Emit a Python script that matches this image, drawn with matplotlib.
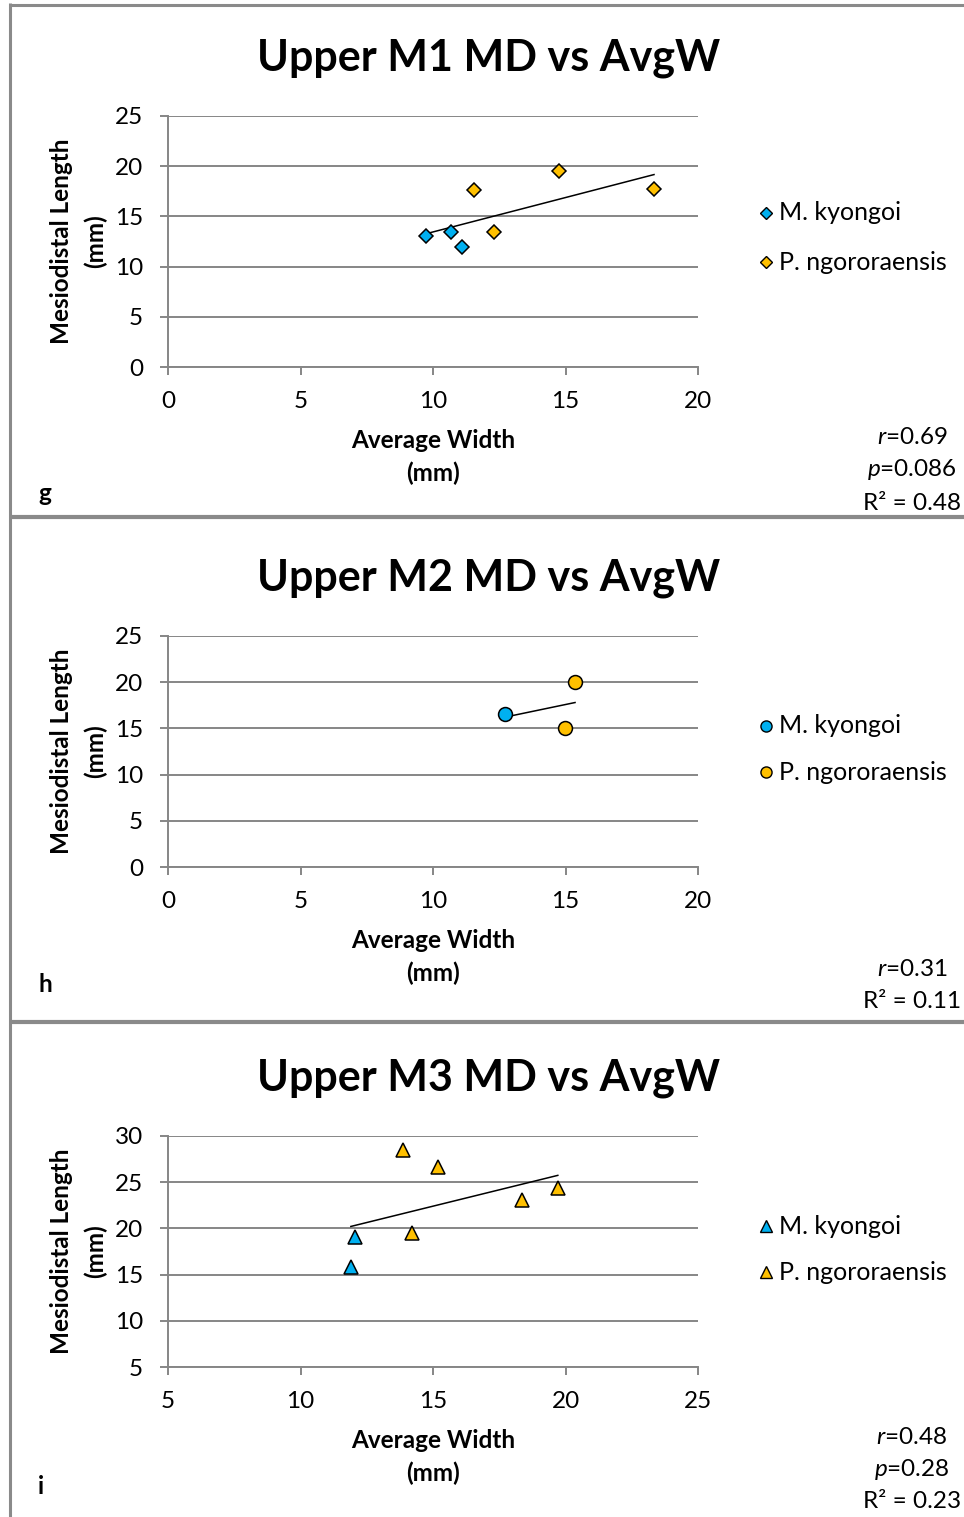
import numpy as np
import matplotlib
matplotlib.use("Agg")
import matplotlib.pyplot as plt
from matplotlib.lines import Line2D

plt.rcParams['font.family'] = ['Lato', 'DejaVu Sans']
plt.rcParams['mathtext.fontset'] = 'custom'
plt.rcParams['mathtext.rm'] = 'Lato'
plt.rcParams['mathtext.it'] = 'Lato:italic'

W, H = 964, 1517

# ---- data: average width (mm) vs mesiodistal length (mm) ----
m1_kyongoi_w = [9.73, 10.67, 11.08]
m1_kyongoi_md = [13.06, 13.42, 12.00]
m1_ngoro_w = [11.55, 12.29, 14.74, 18.34]
m1_ngoro_md = [17.60, 13.42, 19.53, 17.74]

m2_kyongoi_w = [12.73]
m2_kyongoi_md = [16.60]
m2_ngoro_w = [15.36, 14.98]
m2_ngoro_md = [20.00, 15.00]

m3_kyongoi_w = [12.04, 11.90]
m3_kyongoi_md = [19.10, 15.85]
m3_ngoro_w = [13.88, 15.19, 14.20, 18.35, 19.71]
m3_ngoro_md = [28.48, 26.60, 19.53, 23.07, 24.40]

titles = ["Upper M1 MD vs AvgW", "Upper M2 MD vs AvgW", "Upper M3 MD vs AvgW"]
panel_letters = ["g", "h", "i"]
stats = [["$\\mathit{r}$=0.69", "$\\mathit{p}$=0.086", "R\u00b2 = 0.48"],
         ["$\\mathit{r}$=0.31", "R\u00b2 = 0.11"],
         ["$\\mathit{r}$=0.48", "$\\mathit{p}$=0.28", "R\u00b2 = 0.23"]]
species = ["M. kyongoi", "P. ngororaensis"]
x_ranges = [(0, 20), (0, 20), (5, 25)]
y_ranges = [(0, 25), (0, 25), (5, 30)]

BLUE = "#00B0F0"
GOLD = "#FFC000"
GRID = "#868686"

fig = plt.figure(figsize=(W / 100, H / 100), dpi=100)


def fx(px):
    return px / W


def fy(py):
    return 1 - py / H


def hline(x0, x1, y, lw, color="#8a8a8a"):
    fig.add_artist(Line2D([fx(x0), fx(x1)], [fy(y), fy(y)], lw=lw, color=color,
                          transform=fig.transFigure, solid_capstyle="butt"))


def vline(x, y0, y1, lw, color="#8a8a8a"):
    fig.add_artist(Line2D([fx(x), fx(x)], [fy(y0), fy(y1)], lw=lw, color=color,
                          transform=fig.transFigure, solid_capstyle="butt"))


panels = [
    dict(kw=m1_kyongoi_w, kmd=m1_kyongoi_md, nw=m1_ngoro_w, nmd=m1_ngoro_md,
         marker="D", ms=7.5, top=116, bottom=367, title_y=70,
         xl=(441, 473), leg=(213, 262), letter_y=493,
         stat_y=[438, 470, 503]),
    dict(kw=m2_kyongoi_w, kmd=m2_kyongoi_md, nw=m2_ngoro_w, nmd=m2_ngoro_md,
         marker="o", ms=10, top=636, bottom=867, title_y=590,
         xl=(941, 973), leg=(726, 772), letter_y=985,
         stat_y=[970, 1002]),
    dict(kw=m3_kyongoi_w, kmd=m3_kyongoi_md, nw=m3_ngoro_w, nmd=m3_ngoro_md,
         marker="^", ms=10.5, top=1136, bottom=1367, title_y=1090,
         xl=(1441, 1473), leg=(1226, 1272), letter_y=1487,
         stat_y=[1437, 1469, 1501]),
]

AX_L, AX_R = 168, 698

for i, p in enumerate(panels):
    ax = fig.add_axes([fx(AX_L), fy(p["bottom"]), (AX_R - AX_L) / W,
                       (p["bottom"] - p["top"]) / H])
    ax.set_xlim(*x_ranges[i])
    ax.set_ylim(*y_ranges[i])
    ax.set_xticks(np.arange(x_ranges[i][0], x_ranges[i][1] + 1, 5))
    ax.set_yticks(np.arange(y_ranges[i][0], y_ranges[i][1] + 1, 5))
    ax.grid(axis="y", color=GRID, lw=1.4)
    ax.set_axisbelow(True)
    for s in ["top", "right"]:
        ax.spines[s].set_visible(False)
    for s in ["left", "bottom"]:
        ax.spines[s].set_color(GRID)
        ax.spines[s].set_linewidth(1.4)
    ax.tick_params(axis="both", colors=GRID, labelcolor="black", labelsize=17.5,
                   width=1.4, length=6, direction="out")
    ax.tick_params(axis="x", pad=11.5)
    ax.tick_params(axis="y", pad=12)

    # fitted trend line over all specimens
    allw = np.array(p["kw"] + p["nw"])
    allmd = np.array(p["kmd"] + p["nmd"])
    slope, icpt = np.polyfit(allw, allmd, 1)
    xs = np.array([allw.min(), allw.max()])
    ax.plot(xs, slope * xs + icpt, color="black", lw=1.1, zorder=3)

    ax.plot(p["kw"], p["kmd"], ls="none", marker=p["marker"], ms=p["ms"],
            mfc=BLUE, mec="black", mew=1.1, zorder=4, clip_on=False)
    ax.plot(p["nw"], p["nmd"], ls="none", marker=p["marker"], ms=p["ms"],
            mfc=GOLD, mec="black", mew=1.1, zorder=4, clip_on=False)

    # title and axis labels
    fig.text(fx(489), fy(p["title_y"]), titles[i], ha="center", va="baseline",
             fontsize=31, fontweight="bold")
    fig.text(fx(433), fy(p["xl"][0]), "Average Width", ha="center", va="center",
             fontsize=17.5, fontweight="bold")
    fig.text(fx(433), fy(p["xl"][1]), "(mm)", ha="center", va="center",
             fontsize=17.5, fontweight="bold")
    yc = (p["top"] + p["bottom"]) / 2
    fig.text(fx(62), fy(yc), "Mesiodistal Length", ha="center", va="center",
             rotation=90, fontsize=17.5, fontweight="bold")
    fig.text(fx(95), fy(yc), "(mm)", ha="center", va="center",
             rotation=90, fontsize=17.5, fontweight="bold")

    # legend entries
    small = p["ms"] * 0.8
    for name, col, ly in zip(species, [BLUE, GOLD], p["leg"]):
        fig.add_artist(Line2D([fx(766)], [fy(ly)], ls="none", marker=p["marker"],
                              ms=small, mfc=col, mec="black", mew=1.0,
                              transform=fig.transFigure))
        fig.text(fx(779), fy(ly), name, ha="left", va="center", fontsize=18)

    # panel letter and statistics
    fig.text(fx(38), fy(p["letter_y"]), panel_letters[i], ha="left", va="center",
             fontsize=17.5, fontweight="bold")
    for txt, sy in zip(stats[i], p["stat_y"]):
        fig.text(fx(912), fy(sy), txt, ha="center", va="center", fontsize=17.5)

# panel frames
vline(10, 3, H, 2.2)
hline(9, W, 4.5, 2.2)
hline(9, W, 517, 3.0)
hline(9, W, 1022, 3.0)

fig.savefig("out.png", dpi=100)
